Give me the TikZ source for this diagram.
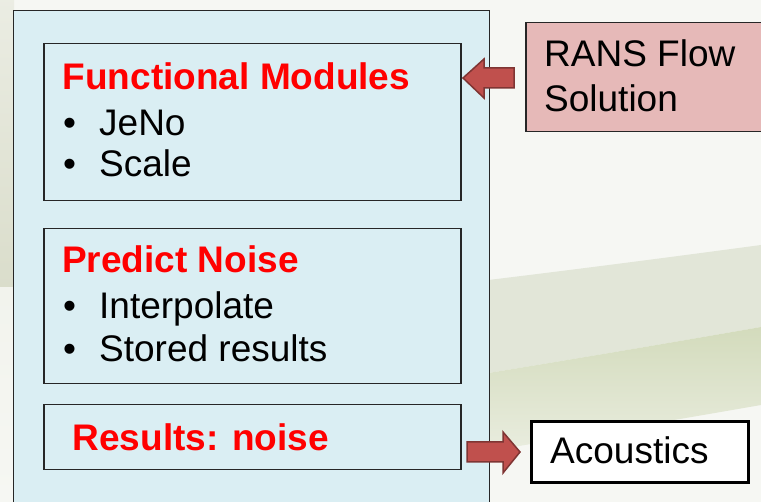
\documentclass[tikz,border=0pt]{standalone}
\usepackage{fontspec}
\setmainfont{Liberation Sans}
\usetikzlibrary{calc}
\definecolor{bgwhite}{HTML}{F6F7F3}
\definecolor{bandgreen}{HTML}{E2E6D8}
\definecolor{lowgreen}{HTML}{D3DBBC}
\definecolor{leftgreen}{HTML}{DADDCB}
\definecolor{boxblue}{HTML}{DAEEF3}
\definecolor{boxpink}{HTML}{E6B9B8}
\definecolor{arrowred}{HTML}{C0504D}
\definecolor{arrowline}{HTML}{7F3533}
\definecolor{titlered}{HTML}{FF0000}
\begin{document}
\begin{tikzpicture}[x=1pt,y=-1pt,
  panel/.style={draw=black!85, line width=1.5pt, fill=boxblue, rectangle, anchor=north west, inner sep=0pt},
  pinkbox/.style={draw=black!85, line width=1.5pt, fill=boxpink, rectangle, anchor=north west, inner sep=0pt},
  plainbox/.style={draw=black, line width=3.5pt, fill=white, rectangle, anchor=north west, inner sep=0pt},
  txt/.style={anchor=base west, inner sep=0pt, font=\fontsize{37}{44}\selectfont},
  ttl/.style={txt, font=\fontsize{37}{44}\selectfont\bfseries, text=titlered},
  blockarrow/.style={fill=arrowred, draw=arrowline, line width=1.5pt, line join=miter}
]
\useasboundingbox (0,0) rectangle (761,502);
\begin{scope}
\clip (0,0) rectangle (761,502);
% background
\fill[bgwhite] (0,0) rectangle (761,502);
\shade[top color=bgwhite!60!leftgreen, bottom color=leftgreen] (0,0) rectangle (14,288);
\shade[top color=bgwhite!85!leftgreen, bottom color=bgwhite] (0,288) rectangle (14,502);
\fill[bandgreen] (14,330) .. controls (300,305) and (560,272) .. (761,245)
  -- (761,327) .. controls (560,362) and (300,405) .. (14,445) -- cycle;
\shade[top color=lowgreen, bottom color=bgwhite]
  (14,445) .. controls (300,405) and (560,362) .. (761,327)
  -- (761,405) .. controls (560,440) and (300,483) .. (14,523) -- cycle;
% outer panel
\node[panel, minimum width=476pt, minimum height=530pt] (outer) at (12.5,10) {};
% inner boxes
\node[panel, minimum width=417pt, minimum height=157pt] (box1) at (43,43) {};
\node[panel, minimum width=417pt, minimum height=155pt] (box2) at (43,228) {};
\node[panel, minimum width=417pt, minimum height=65pt] (box3) at (43,404) {};
% right boxes
\node[pinkbox, minimum width=260pt, minimum height=109pt] (rans) at (525,22) {};
\node[plainbox, minimum width=217pt, minimum height=61pt] (acou) at (529.75,419.75) {};
% texts
\node[ttl] (t1) at (62.5,90) {Functional Modules};
\node[txt] (b11) at (63,136) {•};
\node[txt] (i11) at (99,136) {JeNo};
\node[txt] (b12) at (63,177) {•};
\node[txt] (i12) at (99,177) {Scale};
\node[ttl] (t2) at (62,273) {Predict Noise};
\node[txt] (b21) at (63,319) {•};
\node[txt] (i21) at (99,319) {Interpolate};
\node[txt] (b22) at (63,362) {•};
\node[txt] (i22) at (99,362) {Stored results};
\node[ttl] (t3) at (72.5,451) {Results: noise};
\node[txt] (r1) at (544,67) {RANS Flow};
\node[txt] (r2) at (544,112) {Solution};
\node[txt] (a1) at (550,464) {Acoustics};
% block arrows
\coordinate (inTip) at (463,78);
\draw[blockarrow] (inTip) -- (484,59) -- (484,68) -- (514,68) -- (514,88) -- (484,88) -- (484,98) -- cycle;
\coordinate (outTip) at (520,452);
\draw[blockarrow] (467,442) -- (503,442) -- (503,432) -- (outTip) -- (503,473) -- (503,462) -- (467,462) -- cycle;
\end{scope}
\end{tikzpicture}
\end{document}
